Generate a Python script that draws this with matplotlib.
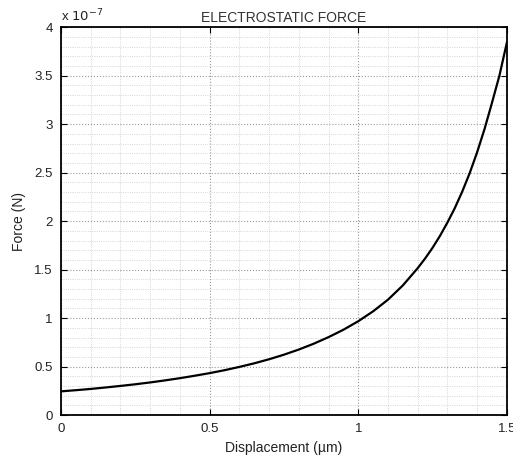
import matplotlib.pyplot as plt
from matplotlib.ticker import MultipleLocator, FormatStrFormatter

# displacement in um, force in units of 1e-7 N
displacement = [0.00, 0.05, 0.10, 0.15, 0.20, 0.25, 0.30, 0.35, 0.40, 0.45,
                0.50, 0.55, 0.60, 0.65, 0.70, 0.75, 0.80, 0.85, 0.90, 0.95,
                1.00, 1.05, 1.10, 1.15, 1.20, 1.225, 1.25, 1.275, 1.30, 1.325,
                1.35, 1.375, 1.40, 1.425, 1.45, 1.475, 1.50]
force_e7 = [0.245, 0.257, 0.270, 0.285, 0.301, 0.318, 0.337, 0.358, 0.381, 0.406,
            0.433, 0.463, 0.497, 0.534, 0.576, 0.623, 0.676, 0.736, 0.804, 0.880,
            0.968, 1.070, 1.190, 1.337, 1.515, 1.615, 1.725, 1.848, 1.985, 2.135,
            2.305, 2.495, 2.710, 2.950, 3.220, 3.500, 3.840]

plt.rcParams["font.family"] = ["Liberation Sans", "DejaVu Sans"]
plt.rcParams["font.size"] = 9.5

fig = plt.figure(figsize=(5.13, 4.68), dpi=100)
ax = fig.add_axes([0.119, 0.113, 0.869, 0.829])

ax.plot(displacement, force_e7, color="black", lw=1.6)

ax.set_xlim(0, 1.5)
ax.set_ylim(0, 4)
ax.xaxis.set_major_locator(MultipleLocator(0.5))
ax.xaxis.set_minor_locator(MultipleLocator(0.1))
ax.yaxis.set_major_locator(MultipleLocator(0.5))
ax.yaxis.set_minor_locator(MultipleLocator(0.1))
ax.xaxis.set_major_formatter(FormatStrFormatter("%g"))
ax.yaxis.set_major_formatter(FormatStrFormatter("%g"))

ax.grid(which="major", color="#999999", ls=":", lw=0.8)
ax.grid(which="minor", color="#c8c8c8", ls=":", lw=0.6)
ax.tick_params(which="major", direction="in", length=4, width=0.8,
               top=True, right=True, labelcolor="#222222", pad=6)
ax.tick_params(which="minor", length=0)
for s in ax.spines.values():
    s.set_linewidth(1.3)

ax.set_title("ELECTROSTATIC FORCE", fontsize=10, color="#333333", pad=4)
ax.set_xlabel("Displacement (\u00b5m)", fontsize=10, color="#222222", labelpad=4)
ax.set_ylabel("Force (N)", fontsize=10, color="#222222", labelpad=6)
ax.text(0.0, 1.008, r"x $10^{-7}$", transform=ax.transAxes, fontsize=9.5,
        color="#222222", ha="left", va="bottom")

fig.savefig("out.png", dpi=100)
